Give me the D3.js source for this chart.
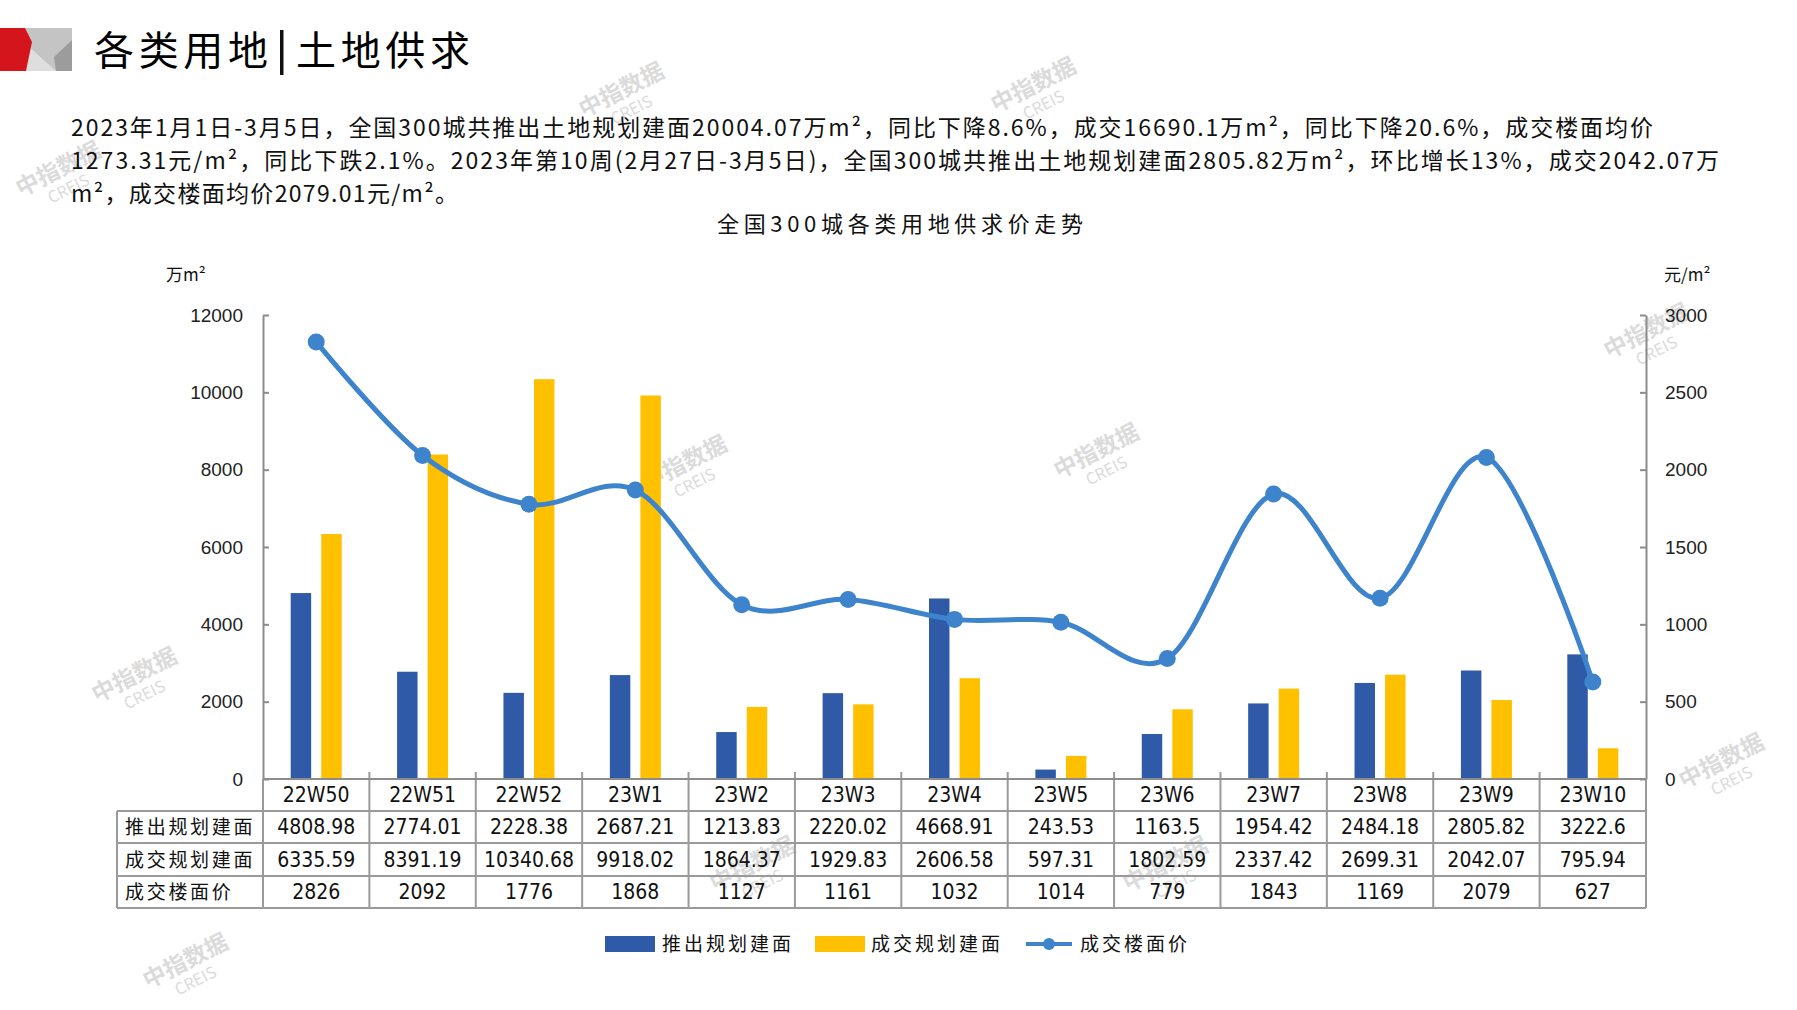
<!DOCTYPE html>
<html>
<head>
<meta charset="utf-8">
<script src="https://cdn.jsdelivr.net/npm/d3@7"></script>
<style>
  body { margin: 0; background: #fff; }
  text { font-family: "Noto Sans CJK SC", sans-serif; }
  .num { font-family: "Liberation Sans Narrow", "DejaVu Sans Condensed", "Liberation Sans", sans-serif; }
  .axis text { font-family: "Liberation Sans", Arial, sans-serif; font-size: 19px; fill: #222; }
  .axis path, .axis line { stroke: #8c8c8c; stroke-width: 2; }
</style>
</head>
<body>
<div id="chart"></div>
<script>
// data
const categories = ['22W50', '22W51', '22W52', '23W1', '23W2', '23W3', '23W4', '23W5', '23W6', '23W7', '23W8', '23W9', '23W10'];
const launched = [4808.98, 2774.01, 2228.38, 2687.21, 1213.83, 2220.02, 4668.91, 243.53, 1163.5, 1954.42, 2484.18, 2805.82, 3222.6];
const sold = [6335.59, 8391.19, 10340.68, 9918.02, 1864.37, 1929.83, 2606.58, 597.31, 1802.59, 2337.42, 2699.31, 2042.07, 795.94];
const price = [2826, 2092, 1776, 1868, 1127, 1161, 1032, 1014, 779, 1843, 1169, 2079, 627];
const seriesNames = ['推出规划建面', '成交规划建面', '成交楼面价'];
const leftTicks = [0, 2000, 4000, 6000, 8000, 10000, 12000];
const rightTicks = [0, 500, 1000, 1500, 2000, 2500, 3000];

const pageTitle = ['各类用地', '土地供求'];
const paragraph = [
  '2023年1月1日-3月5日，全国300城共推出土地规划建面20004.07万m²，同比下降8.6%，成交16690.1万m²，同比下降20.6%，成交楼面均价',
  '1273.31元/m²，同比下跌2.1%。2023年第10周(2月27日-3月5日)，全国300城共推出土地规划建面2805.82万m²，环比增长13%，成交2042.07万',
  'm²，成交楼面均价2079.01元/m²。'
];
const chartTitle = '全国300城各类用地供求价走势';

const W = 1797, H = 1010;
const blue = '#2f5aa7', yellow = '#ffc000', lineBlue = '#3d84cc', grid = '#9a9a9a';

const svg = d3.select('#chart').append('svg')
    .attr('width', W).attr('height', H);
svg.append('rect').attr('width', W).attr('height', H).attr('fill', '#fff');

// watermarks
const marks = [[625, 97], [1037, 92], [62, 176], [688, 470], [1100, 458], [1650, 338], [138, 682], [1725, 768], [756, 871], [1169, 871], [189, 968]];
marks.forEach(p => {
    let g = svg.append('g').attr('transform', 'translate(' + p[0] + ',' + p[1] + ') rotate(-27)')
        .attr('fill', '#cfcfcf').attr('opacity', 0.75);
    g.append('text').attr('text-anchor', 'middle').attr('font-size', 23).attr('font-weight', 700).text('中指数据');
    g.append('text').attr('text-anchor', 'middle').attr('y', 20).attr('font-size', 16)
        .attr('font-family', 'Liberation Sans, sans-serif').text('CREIS');
});

// logo
let logo = svg.append('g');
logo.append('rect').attr('x', 0).attr('y', 28).attr('width', 72).attr('height', 43).attr('fill', '#c4c4c4');
logo.append('polygon').attr('points', '26,44 56,71 24,71').attr('fill', '#dedede');
logo.append('polygon').attr('points', '72,40 72,71 56,71 54,57').attr('fill', '#9c9c9c');
logo.append('polygon').attr('points', '0,28 25,28 32,42 26,71 0,71').attr('fill', '#d4161c');

// page title
svg.append('text').attr('x', 94).attr('y', 65).attr('font-size', 40)
    .attr('textLength', 174).attr('lengthAdjust', 'spacing').text(pageTitle[0]);
svg.append('rect').attr('x', 280).attr('y', 30).attr('width', 3.5).attr('height', 45).attr('fill', '#111');
svg.append('text').attr('x', 296).attr('y', 65).attr('font-size', 40)
    .attr('textLength', 174).attr('lengthAdjust', 'spacing').text(pageTitle[1]);

// paragraph
const paraWidths = [1582, 1648, 387];
paragraph.forEach((t, i) => {
    svg.append('text').attr('x', 71).attr('y', 136 + i * 33).attr('font-size', 23).attr('fill', '#111')
        .attr('textLength', paraWidths[i]).attr('lengthAdjust', 'spacing').text(t);
});

// chart title
svg.append('text').attr('x', 900).attr('y', 232).attr('text-anchor', 'middle')
    .attr('font-size', 22).attr('fill', '#111')
    .attr('textLength', 366).attr('lengthAdjust', 'spacing').text(chartTitle);

// units
svg.append('text').attr('x', 166).attr('y', 281).attr('font-size', 17).attr('fill', '#111').text('万m²');
svg.append('text').attr('x', 1664).attr('y', 281).attr('font-size', 17).attr('fill', '#111').text('元/m²');

// scales
const x = d3.scaleBand().domain(categories).range([263, 1646]);
const x1 = d3.scaleBand().domain([0, 1])
    .range([x.bandwidth() / 2 - 25.5, x.bandwidth() / 2 + 25.5]).paddingInner(0.33);
const yL = d3.scaleLinear().domain([0, 12000]).range([779, 315]);
const yR = d3.scaleLinear().domain([0, 3000]).range([779, 315]);
const cx = (d) => x(d) + x.bandwidth() / 2;

// axes
svg.append('g').attr('class', 'axis').attr('transform', 'translate(263,0)')
    .call(d3.axisLeft(yL).tickValues(leftTicks).tickFormat(d3.format('d'))
        .tickSizeInner(-6).tickSizeOuter(0).tickPadding(20));
svg.append('g').attr('class', 'axis').attr('transform', 'translate(1646,0)')
    .call(d3.axisRight(yR).tickValues(rightTicks).tickFormat(d3.format('d'))
        .tickSizeInner(-6).tickSizeOuter(0).tickPadding(19));

// bars
svg.append('g').selectAll('rect').data(categories).enter().append('rect')
    .attr('x', (d) => x(d) + x1(0)).attr('width', x1.bandwidth())
    .attr('y', (d, i) => yL(launched[i])).attr('height', (d, i) => yL(0) - yL(launched[i]))
    .attr('fill', blue);
svg.append('g').selectAll('rect').data(categories).enter().append('rect')
    .attr('x', (d) => x(d) + x1(1)).attr('width', x1.bandwidth())
    .attr('y', (d, i) => yL(sold[i])).attr('height', (d, i) => yL(0) - yL(sold[i]))
    .attr('fill', yellow);

// table
const rowY = [779, 811, 843, 876, 908];
const tableLeft = 117;
let tbl = svg.append('g').attr('stroke', grid).attr('stroke-width', 2);
let edges = categories.map((d) => x(d)).concat([x.range()[1]]);
edges.forEach((e, i) => {
    tbl.append('line').attr('x1', e).attr('x2', e).attr('y1', rowY[0]).attr('y2', rowY[4]);
    if (i > 0 && i < edges.length - 1)
        tbl.append('line').attr('x1', e).attr('x2', e).attr('y1', rowY[0] - 7).attr('y2', rowY[0]);
});
tbl.append('line').attr('x1', tableLeft).attr('x2', tableLeft).attr('y1', rowY[1]).attr('y2', rowY[4]);
rowY.slice(1).forEach((r) => {
    tbl.append('line').attr('x1', tableLeft).attr('x2', 1646).attr('y1', r).attr('y2', r);
});
tbl.append('line').attr('x1', 263).attr('x2', 1646).attr('y1', rowY[0]).attr('y2', rowY[0]).attr('stroke', '#8c8c8c');

const rows = [categories, launched, sold, price];
rows.forEach((vals, r) => {
    let yMid = (rowY[r] + rowY[r + 1]) / 2 + 7;
    svg.append('g').selectAll('text').data(vals).enter().append('text')
        .attr('class', 'num')
        .attr('x', (d, i) => cx(categories[i])).attr('y', yMid)
        .attr('text-anchor', 'middle').attr('font-size', 21).attr('fill', '#111')
        .text((d) => d);
    if (r > 0) {
        svg.append('text').attr('x', 125).attr('y', yMid).attr('font-size', 19).attr('fill', '#111')
            .attr('letter-spacing', 2.7)
            .text(seriesNames[r - 1]);
    }
});

// price line
const line = d3.line()
    .x((d, i) => cx(categories[i]))
    .y((d) => yR(d))
    .curve(d3.curveCardinal.tension(0));
svg.append('path').datum(price).attr('d', line)
    .attr('fill', 'none').attr('stroke', lineBlue).attr('stroke-width', 5);
svg.append('g').selectAll('circle').data(price).enter().append('circle')
    .attr('cx', (d, i) => cx(categories[i])).attr('cy', (d) => yR(d)).attr('r', 8.5)
    .attr('fill', lineBlue);

// legend
let lg = svg.append('g').attr('font-size', 19).attr('fill', '#111').attr('letter-spacing', 3);
lg.append('rect').attr('x', 605).attr('y', 936).attr('width', 50).attr('height', 16).attr('fill', blue);
lg.append('text').attr('x', 662).attr('y', 951).text(seriesNames[0]);
lg.append('rect').attr('x', 815).attr('y', 936).attr('width', 50).attr('height', 16).attr('fill', yellow);
lg.append('text').attr('x', 871).attr('y', 951).text(seriesNames[1]);
lg.append('line').attr('x1', 1026).attr('x2', 1072).attr('y1', 944).attr('y2', 944)
    .attr('stroke', lineBlue).attr('stroke-width', 4);
lg.append('circle').attr('cx', 1049).attr('cy', 944).attr('r', 6).attr('fill', lineBlue);
lg.append('text').attr('x', 1080).attr('y', 951).text(seriesNames[2]);
</script>
</body>
</html>
